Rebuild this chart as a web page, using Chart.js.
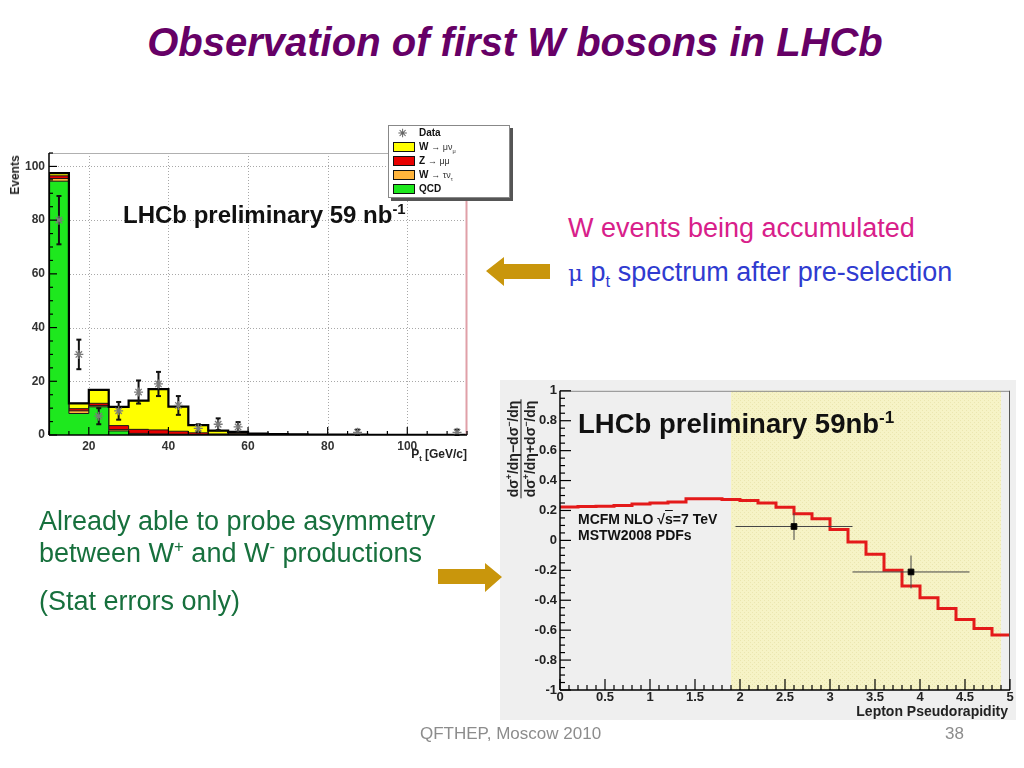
<!DOCTYPE html>
<html><head><meta charset="utf-8">
<title>Observation of first W bosons in LHCb</title>
<script src="https://cdn.jsdelivr.net/npm/chart.js@4.4.1/dist/chart.umd.min.js"></script>
<style>
html,body{margin:0;padding:0;}
body{width:1024px;height:768px;background:#fff;position:relative;overflow:hidden;font-family:"Liberation Sans",Arial,Helvetica,sans-serif;}
.t{position:absolute;white-space:nowrap;}
sup,sub{font-size:62%;line-height:0;}
#leftWrap{position:absolute;left:0;top:140px;width:500px;height:330px;}
#rightWrap{position:absolute;left:500px;top:380px;width:516px;height:340px;background:#efefef;}
.lg{position:absolute;left:388px;top:125px;width:120px;height:71px;background:#fff;border:1px solid #888;box-shadow:3px 3px 0 #555;font-weight:bold;font-size:10px;color:#111;}
.lg .row{position:absolute;left:0;height:14px;line-height:14px;}
.lg .sw{position:absolute;left:4px;top:2px;width:20px;height:8px;border:1px solid #111;}
.lg .tx{position:absolute;left:30px;top:0;}
.lg .sm{font-weight:normal;font-size:9px;color:#333;}
</style></head><body>

<div class="t" style="left:0;width:1030px;top:20px;text-align:center;font-size:40px;line-height:44px;font-weight:bold;font-style:italic;color:#660066;">Observation of first W bosons in LHCb</div>

<div id="leftWrap"><canvas id="ptChart" width="500" height="330"></canvas></div>
<div id="rightWrap"><canvas id="etaChart" width="516" height="340"></canvas></div>

<!-- left chart texts -->
<div class="t" style="left:15px;top:175px;transform:translate(-50%,-50%) rotate(-90deg);font-weight:bold;font-size:12px;color:#222;">Events</div>
<div class="t" style="right:557px;top:447px;font-weight:bold;font-size:12px;color:#222;">P<sub>t</sub> [GeV/c]</div>
<div class="t" style="left:123px;top:201px;font-weight:bold;font-size:24px;line-height:28px;color:#111;">LHCb preliminary 59 nb<sup>-1</sup></div>

<div class="lg">
  <div class="row" style="top:0px;width:120px;"><span style="position:absolute;left:9px;top:0;color:#666;font-size:11px;">&#x2733;</span><span class="tx">Data</span></div>
  <div class="row" style="top:14px;width:120px;"><span class="sw" style="background:#ffff00;"></span><span class="tx">W <span class="sm">&rarr; &mu;&nu;<sub>&mu;</sub></span></span></div>
  <div class="row" style="top:28px;width:120px;"><span class="sw" style="background:#e80000;"></span><span class="tx">Z <span class="sm">&rarr; &mu;&mu;</span></span></div>
  <div class="row" style="top:42px;width:120px;"><span class="sw" style="background:#ffb43c;"></span><span class="tx">W <span class="sm">&rarr; &tau;&nu;<sub>&tau;</sub></span></span></div>
  <div class="row" style="top:56px;width:120px;"><span class="sw" style="background:#1ee81e;"></span><span class="tx">QCD</span></div>
</div>

<!-- right side texts -->
<div class="t" style="left:568px;top:212px;font-size:27px;line-height:32px;color:#d8208a;">W events being accumulated</div>
<div class="t" style="left:568px;top:256px;font-size:27px;line-height:32px;color:#2f3bd0;"><span style="font-family:'DejaVu Serif',serif;font-size:23px;">&mu;</span> p<sub>t</sub> spectrum after pre-selection</div>

<svg class="t" style="left:0;top:0;" width="1024" height="768">
  <polygon points="486,271 504,257 504,264 550,264 550,279 504,279 504,286" fill="#c9960c"/>
  <polygon points="502,577 485,563 485,569 438,569 438,584 485,584 485,592" fill="#c9960c"/>
</svg>

<div class="t" style="left:39px;top:505px;font-size:27px;line-height:32px;color:#17703d;">Already able to probe asymmetry<br>between W<sup>+</sup> and W<sup>-</sup> productions</div>
<div class="t" style="left:39px;top:585px;font-size:27px;line-height:32px;color:#17703d;">(Stat errors only)</div>

<!-- right chart texts -->
<div class="t" style="left:521px;top:449px;transform:translate(-50%,-50%) rotate(-90deg);font-weight:bold;font-size:14px;line-height:14px;color:#222;text-align:center;">
  <div style="border-bottom:1px solid #222;padding:0 1px 1px 1px;">d&sigma;<sup>+</sup>/d&eta;&minus;d&sigma;<sup>&minus;</sup>/d&eta;</div>
  <div style="padding-top:1px;">d&sigma;<sup>+</sup>/d&eta;+d&sigma;<sup>&minus;</sup>/d&eta;</div>
</div>
<div class="t" style="left:578px;top:408px;font-weight:bold;font-size:27.5px;line-height:32px;color:#111;">LHCb preliminary 59nb<sup>-1</sup></div>
<div class="t" style="left:578px;top:511px;font-weight:bold;font-size:14px;line-height:16px;color:#111;">MCFM NLO &radic;<span style="text-decoration:overline;">s</span>=7 TeV<br>MSTW2008 PDFs</div>
<div class="t" style="right:16px;top:703px;font-weight:bold;font-size:14px;line-height:16px;color:#222;">Lepton Pseudorapidity</div>

<div class="t" style="left:420px;top:724px;font-size:17px;line-height:19px;color:#8c8c8c;">QFTHEP, Moscow 2010</div>
<div class="t" style="left:945px;top:724px;font-size:17px;line-height:19px;color:#8c8c8c;">38</div>

<script>
const FONT = "'Liberation Sans', Arial, sans-serif";

// ---------- muon pT spectrum (left) ----------
const ptBinEdges   = [10,15,20,25,30,35,40,45,50,55,60,65,70,75,80,85,90,95,100,105,110,115];
const ptTicks      = [20,40,60,80,100];
const eventTicks   = [0,20,40,60,80,100];
const qcdEvents    = [94.5,8.0,10.5,1.5,0.3,0.2,0.1,0.0,0.0,0.1,0.0,0.0,0.0,0.0,0.0,0.0,0.0,0.0,0.0,0.0,0.0];
const tauNuEvents  = [1.0,1.0,0.5,0.5,0.3,0.2,0.2,0.1,0.1,0.2,0.1,0.05,0.05,0.0,0.0,0.0,0.0,0.0,0.0,0.0,0.0];
const zMuMuEvents  = [1.0,0.8,0.8,1.5,1.5,1.5,1.1,0.7,0.3,0.3,0.1,0.1,0.05,0.05,0.05,0.05,0.05,0.0,0.0,0.0,0.0];
const wMuNuEvents  = [1.0,2.0,5.0,7.0,10.7,15.2,9.2,2.9,1.2,0.6,0.3,0.2,0.15,0.1,0.1,0.1,0.05,0.05,0.05,0.05,0.05];
const dataPt       = [12.5,17.5,22.5,27.5,32.5,37.5,42.5,47.5,52.5,57.5,87.5,112.5];
const dataEvents   = [80,30,7,9,16,19,11,2.5,4,3,1,1];
const dataEventErr = [9,5.5,3,3.3,4.3,4.5,3.5,1.5,2.2,1.8,1,1];

// ---------- W charge asymmetry (right) ----------
const etaBinEdges  = [0,0.2,0.4,0.6,0.8,1.0,1.2,1.4,1.6,1.8,2.0,2.2,2.4,2.6,2.8,3.0,3.2,3.4,3.6,3.8,4.0,4.2,4.4,4.6,4.8,5.0];
const etaTicks     = [0,0.5,1,1.5,2,2.5,3,3.5,4,4.5,5];
const asymTicks    = [-1,-0.8,-0.6,-0.4,-0.2,0,0.2,0.4,0.6,0.8,1];
const mcfmAsym     = [0.224,0.226,0.229,0.233,0.244,0.25,0.256,0.278,0.279,0.273,0.267,0.25,0.222,0.178,0.144,0.073,-0.011,-0.093,-0.2,-0.304,-0.384,-0.456,-0.529,-0.589,-0.633];
const dataEta      = [2.6,3.9];
const dataEtaLow   = [1.95,3.25];
const dataEtaHigh  = [3.25,4.55];
const dataAsym     = [0.093,-0.211];
const dataAsymErr  = [0.09,0.11];
const acceptance   = [1.9,4.9];

function stackOn(base, add){ return base.map((v,i)=>v+add[i]); }
function histPoints(edges, vals){
  const pts=[{x:edges[0],y:0}];
  vals.forEach((v,i)=>pts.push({x:edges[i],y:v}));
  pts.push({x:edges[edges.length-1],y:vals[vals.length-1]});
  pts.push({x:edges[edges.length-1],y:0});
  return pts;
}
const cumQcd = qcdEvents.slice();
const cumTau = stackOn(cumQcd, tauNuEvents);
const cumZ   = stackOn(cumTau, zMuMuEvents);
const cumW   = stackOn(cumZ, wMuNuEvents);

function stepRange(min,max,step){ const a=[]; for(let v=min; v<=max+1e-9; v+=step) a.push(Math.round(v*1000)/1000); return a; }

function line(ctx,x1,y1,x2,y2){ ctx.beginPath(); ctx.moveTo(x1,y1); ctx.lineTo(x2,y2); ctx.stroke(); }

function decor(cfg){
  return {
    id:'decor',
    beforeDatasetsDraw(chart){
      const {ctx, chartArea:a, scales:{x,y}} = chart;
      ctx.save();
      if (cfg.band){
        const x1=x.getPixelForValue(cfg.band[0]), x2=x.getPixelForValue(cfg.band[1]);
        ctx.fillStyle='#f6f3c6'; ctx.fillRect(x1,a.top,x2-x1,a.bottom-a.top);
        const pc=document.createElement('canvas'); pc.width=4; pc.height=4;
        const p=pc.getContext('2d'); p.fillStyle='#f6f3c6'; p.fillRect(0,0,4,4);
        p.fillStyle='#ebe6b0'; p.fillRect(0,0,1,1); p.fillRect(2,2,1,1);
        ctx.fillStyle=ctx.createPattern(pc,'repeat'); ctx.fillRect(x1,a.top,x2-x1,a.bottom-a.top);
      }
      if (cfg.grid){
        ctx.strokeStyle='#a8a8a8'; ctx.lineWidth=1; ctx.setLineDash([1,2]);
        cfg.xMajor.forEach(v=>{ const px=Math.round(x.getPixelForValue(v))+0.5; line(ctx,px,a.top,px,a.bottom); });
        cfg.yMajor.forEach(v=>{ if(v===0) return; const py=Math.round(y.getPixelForValue(v))+0.5; line(ctx,a.left,py,a.right,py); });
        ctx.setLineDash([]);
      }
      ctx.restore();
    },
    afterDatasetsDraw(chart){
      const {ctx, chartArea:a, scales:{x,y}} = chart;
      ctx.save();
      ctx.lineWidth=1;
      ctx.strokeStyle=cfg.topColor; line(ctx,a.left,a.top+0.5,a.right,a.top+0.5);
      ctx.strokeStyle=cfg.rightColor; ctx.lineWidth=cfg.rightWidth; line(ctx,a.right-0.5,a.top,a.right-0.5,a.bottom);
      ctx.strokeStyle='#000'; ctx.lineWidth=1.5;
      line(ctx,a.left,a.top,a.left,a.bottom); line(ctx,a.left,a.bottom,a.right,a.bottom);
      ctx.lineWidth=1.2;
      stepRange(cfg.xMin,cfg.xMax,cfg.xMinorStep).forEach(v=>{
        const px=x.getPixelForValue(v); if(px<a.left-0.5||px>a.right+0.5) return;
        const major = cfg.xMajor.some(m=>Math.abs(m-v)<1e-6);
        line(ctx,px,a.bottom,px,a.bottom-(major?cfg.majorLen:cfg.minorLen));
      });
      stepRange(cfg.yMin,cfg.yMax,cfg.yMinorStep).forEach(v=>{
        const py=y.getPixelForValue(v); if(py<a.top-0.5||py>a.bottom+0.5) return;
        const major = cfg.yMajor.some(m=>Math.abs(m-v)<1e-6);
        line(ctx,a.left,py,a.left+(major?cfg.majorLen:cfg.minorLen),py);
      });
      ctx.restore();
    }
  };
}

// error bars drawn right after the histogram/curve and before the markers
const ptErrors = {
  id:'ptErrors',
  afterDatasetDraw(chart,args){
    if(args.index!==1) return;
    const {ctx, scales:{x,y}} = chart;
    ctx.save(); ctx.strokeStyle='#111'; ctx.lineWidth=2;
    dataPt.forEach((p,i)=>{
      const px=x.getPixelForValue(p);
      const y1=y.getPixelForValue(Math.max(0,dataEvents[i]-dataEventErr[i]));
      const y2=y.getPixelForValue(dataEvents[i]+dataEventErr[i]);
      line(ctx,px,y1,px,y2); line(ctx,px-2.5,y1,px+2.5,y1); line(ctx,px-2.5,y2,px+2.5,y2);
    });
    ctx.restore();
  }
};
const etaErrors = {
  id:'etaErrors',
  afterDatasetDraw(chart,args){
    if(args.index!==1) return;
    const {ctx, scales:{x,y}} = chart;
    ctx.save(); ctx.strokeStyle='#444'; ctx.lineWidth=1;
    dataEta.forEach((e,i)=>{
      const px=x.getPixelForValue(e), py=y.getPixelForValue(dataAsym[i]);
      line(ctx,x.getPixelForValue(dataEtaLow[i]),py,x.getPixelForValue(dataEtaHigh[i]),py);
      line(ctx,px,y.getPixelForValue(dataAsym[i]-dataAsymErr[i]),px,y.getPixelForValue(dataAsym[i]+dataAsymErr[i]));
    });
    ctx.restore();
  }
};

const tickFont = (s)=>({family:FONT,size:s,weight:'bold'});

new Chart(document.getElementById('ptChart'), {
  type:'line',
  data:{datasets:[
    {label:'Data', data:dataPt.map((p,i)=>({x:p,y:dataEvents[i]})), showLine:false, fill:false,
      pointStyle:'star', pointRadius:4.5, pointBorderColor:'#7a7a7a', pointBorderWidth:1.3, pointBackgroundColor:'#7a7a7a'},
    {label:'total', data:histPoints(ptBinEdges,cumW), stepped:true, fill:false, borderColor:'#000', borderWidth:2.2, pointRadius:0},
    {label:'QCD', data:histPoints(ptBinEdges,cumQcd), stepped:true, fill:'origin', backgroundColor:'#1ee81e', borderColor:'#1a1a1a', borderWidth:1, pointRadius:0},
    {label:'W → τν_τ', data:histPoints(ptBinEdges,cumTau), stepped:true, fill:'origin', backgroundColor:'#ffb43c', borderColor:'#1a1a1a', borderWidth:1, pointRadius:0},
    {label:'Z → μμ', data:histPoints(ptBinEdges,cumZ), stepped:true, fill:'origin', backgroundColor:'#e80000', borderColor:'#1a1a1a', borderWidth:1, pointRadius:0},
    {label:'W → μν_μ', data:histPoints(ptBinEdges,cumW), stepped:true, fill:'origin', backgroundColor:'#ffff00', borderColor:'#1a1a1a', borderWidth:1, pointRadius:0}
  ]},
  options:{
    responsive:false, animation:false, events:[],
    layout:{padding:{top:13,right:33,left:0,bottom:0}},
    plugins:{legend:{display:false}, tooltip:{enabled:false}},
    scales:{
      x:{type:'linear', min:10, max:115,
        afterBuildTicks:s=>{ s.ticks=ptTicks.map(v=>({value:v})); },
        afterFit:s=>{ s.height=35; },
        grid:{display:false, drawTicks:false}, border:{display:false},
        ticks:{font:tickFont(12), color:'#333', padding:4, maxRotation:0, autoSkip:false}},
      y:{type:'linear', min:0, max:105,
        afterBuildTicks:s=>{ s.ticks=eventTicks.map(v=>({value:v})); },
        afterFit:s=>{ s.width=49; },
        grid:{display:false, drawTicks:false}, border:{display:false},
        ticks:{font:tickFont(12), color:'#333', padding:4, autoSkip:false}}
    }
  },
  plugins:[decor({grid:true, xMin:10, xMax:115, xMinorStep:5, yMin:0, yMax:105, yMinorStep:5,
    xMajor:ptTicks, yMajor:eventTicks, majorLen:8, minorLen:4, topColor:'#b0b0b0', rightColor:'#e0a0a8', rightWidth:2}), ptErrors]
});

new Chart(document.getElementById('etaChart'), {
  type:'line',
  data:{datasets:[
    {label:'LHCb data', data:dataEta.map((e,i)=>({x:e,y:dataAsym[i]})), showLine:false, fill:false,
      pointStyle:'rect', pointRadius:4, pointBackgroundColor:'#000', pointBorderColor:'#000', pointBorderWidth:1},
    {label:'MCFM NLO', data:histPoints(etaBinEdges,mcfmAsym).slice(1,-1), stepped:true, fill:false,
      borderColor:'#e41a1a', borderWidth:3, pointRadius:0}
  ]},
  options:{
    responsive:false, animation:false, events:[],
    layout:{padding:{top:10,right:6,left:0,bottom:0}},
    plugins:{legend:{display:false}, tooltip:{enabled:false}},
    scales:{
      x:{type:'linear', min:0, max:5,
        afterBuildTicks:s=>{ s.ticks=etaTicks.map(v=>({value:v})); },
        afterFit:s=>{ s.height=30; },
        grid:{display:false, drawTicks:false}, border:{display:false},
        ticks:{font:tickFont(13), color:'#222', padding:0, maxRotation:0, autoSkip:false, callback:v=>String(Math.round(v*10)/10)}},
      y:{type:'linear', min:-1, max:1,
        afterBuildTicks:s=>{ s.ticks=asymTicks.map(v=>({value:v})); },
        afterFit:s=>{ s.width=60; },
        grid:{display:false, drawTicks:false}, border:{display:false},
        ticks:{font:tickFont(13), color:'#222', padding:3, autoSkip:false, callback:v=>String(Math.round(v*10)/10)}}
    }
  },
  plugins:[decor({grid:false, band:acceptance, xMin:0, xMax:5, xMinorStep:0.1, yMin:-1, yMax:1, yMinorStep:0.05,
    xMajor:etaTicks, yMajor:asymTicks, majorLen:11, minorLen:5, topColor:'#8a8a8a', rightColor:'#555', rightWidth:1}), etaErrors]
});
</script>
</body></html>
